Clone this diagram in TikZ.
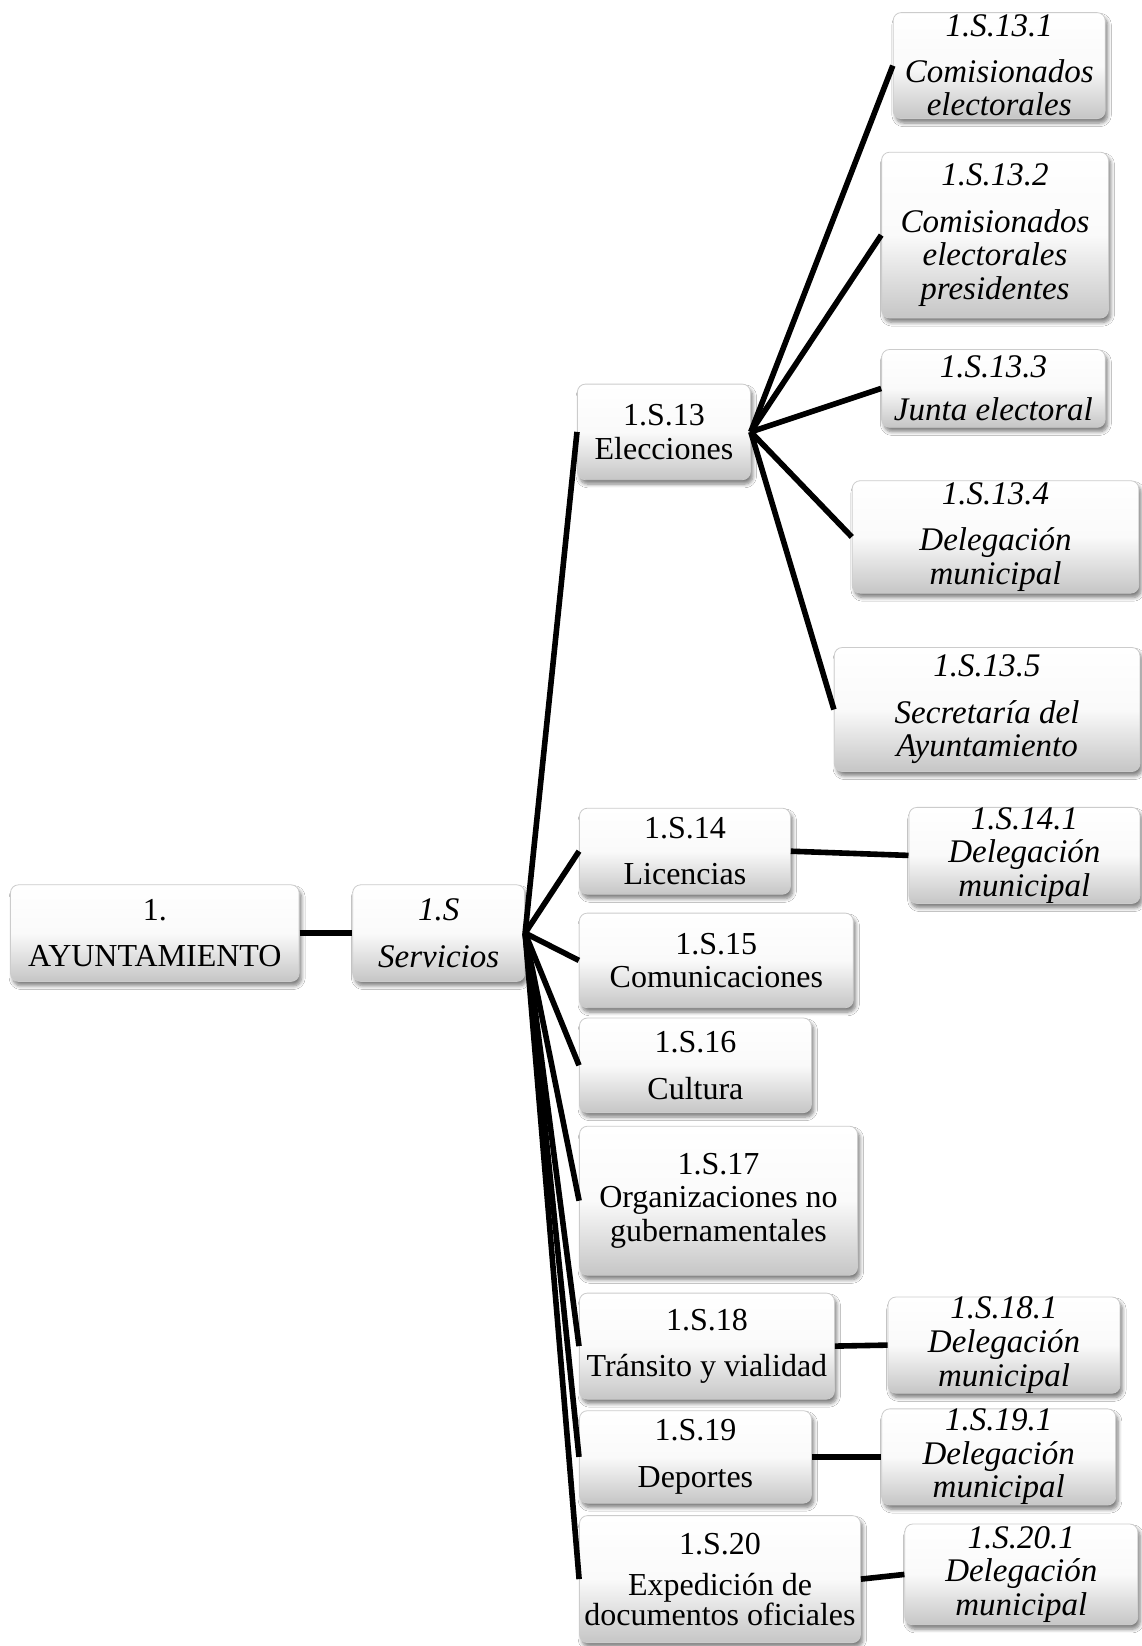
\documentclass[tikz,border=0pt]{standalone}
\usepackage{fontspec}
\setmainfont{Liberation Serif}
\usetikzlibrary{shadows.blur}

\tikzset{
  unit/.style={rectangle, rounded corners=4pt, draw=gray!40, line width=0.4pt,
    top color=white, bottom color=gray!45, middle color=white!96!gray,
    blur shadow={shadow xshift=1.2pt, shadow yshift=-2.2pt, shadow blur steps=6, shadow opacity=50},
    inner sep=0pt, align=center, font=\fontsize{16}{16.8}\selectfont},
  subunit/.style={unit, font=\fontsize{16.5}{16.8}\selectfont\itshape},
  link/.style={line width=2.8pt, black},
}

\begin{document}
\begin{tikzpicture}[x=0.5pt, y=-0.5pt]
  \fill[white] (0,0) rectangle (1142,1646);
  \useasboundingbox (0,0) rectangle (1142,1646);

  % root and first level
  \node[unit, minimum width=144.3pt, minimum height=48.3pt] (ayto) at (154.8,933.1) {1.\\[6.5pt]AYUNTAMIENTO};
  \node[subunit, minimum width=86pt, minimum height=48.3pt] (serv) at (438.7,933.1) {1.S\\[6.5pt]Servicios};

  % 1.S.13 and its units
  \node[unit, minimum width=86.5pt, minimum height=47.8pt] (elec) at (663.9,431.9) {1.S.13\\Elecciones};
  \node[subunit, minimum width=106pt, minimum height=53pt] (e1) at (999.2,65.6) {1.S.13.1\\[6pt]Comisionados\\electorales};
  \node[subunit, minimum width=113.4pt, minimum height=82.9pt] (e2) at (995,235.1) {1.S.13.2\\[6.5pt]Comisionados\\electorales\\presidentes};
  \node[subunit, minimum width=111.8pt, minimum height=38.9pt] (e3) at (993.4,388.4) {1.S.13.3\\[5pt]Junta electoral};
  \node[subunit, minimum width=143.3pt, minimum height=56.2pt] (e4) at (995.5,536.9) {1.S.13.4\\[6.5pt]Delegación\\municipal};
  \node[subunit, minimum width=152.8pt, minimum height=62pt] (e5) at (987.1,709.5) {1.S.13.5\\[6.5pt]Secretaría del\\Ayuntamiento};

  % 1.S.14 -- 1.S.20
  \node[unit, minimum width=105.5pt, minimum height=43pt] (lic) at (684.9,851.2) {1.S.14\\[6.5pt]Licencias};
  \node[subunit, minimum width=115.5pt, minimum height=47.3pt] (lic1) at (1024.4,855.4) {1.S.14.1\\Delegación\\municipal};
  \node[unit, minimum width=137pt, minimum height=47.3pt] (com) at (716.3,960.4) {1.S.15\\Comunicaciones};
  \node[unit, minimum width=116pt, minimum height=47.3pt] (cul) at (695.4,1065.3) {1.S.16\\[6.5pt]Cultura};
  \node[unit, minimum width=139pt, minimum height=74.5pt] (ong) at (718.5,1200.7) {1.S.17\\Organizaciones no\\gubernamentales};
  \node[unit, minimum width=127.5pt, minimum height=53pt] (tra) at (706.9,1346.1) {1.S.18\\[6.5pt]Tránsito y vialidad};
  \node[subunit, minimum width=116pt, minimum height=46.7pt] (tra1) at (1004,1345.1) {1.S.18.1\\Delegación\\municipal};
  \node[unit, minimum width=116pt, minimum height=46.2pt] (dep) at (695.4,1456.9) {1.S.19\\[6.5pt]Deportes};
  \node[subunit, minimum width=117pt, minimum height=46.2pt] (dep1) at (998.7,1456.9) {1.S.19.1\\Delegación\\municipal};
  \node[unit, minimum width=140.5pt, minimum height=63.5pt] (doc) at (720,1579.1) {1.S.20\\[4pt]Expedición de\\[-2pt]documentos oficiales};
  \node[subunit, minimum width=116.5pt, minimum height=50.4pt] (doc1) at (1021.3,1574.4) {1.S.20.1\\Delegación\\municipal};

  % connectors
  \draw[link] (ayto) -- (serv);
  \foreach \n in {elec, lic, com, cul, ong, tra, dep, doc}
    \draw[link] (serv.east) -- (\n.west);
  \foreach \n in {e1, e2, e3, e4, e5}
    \draw[link] (elec.east) -- (\n.west);
  \draw[link] (lic.east) -- (lic1.west);
  \draw[link] (tra.east) -- (tra1.west);
  \draw[link] (dep.east) -- (dep1.west);
  \draw[link] (doc.east) -- (doc1.west);
\end{tikzpicture}
\end{document}
